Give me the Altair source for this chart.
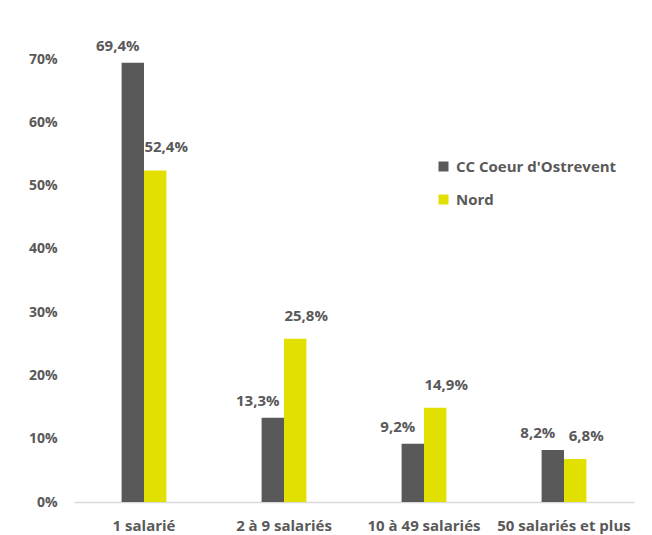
import altair as alt
import pandas as pd

categories = ["1 salarié", "2 à 9 salariés", "10 à 49 salariés", "50 salariés et plus"]
series = ["CC Coeur d'Ostrevent", "Nord"]
cc_values = [69.4, 13.3, 9.2, 8.2]
nord_values = [52.4, 25.8, 14.9, 6.8]
colors = ["#595959", "#e1e000"]
y_ticks = [0, 0.1, 0.2, 0.3, 0.4, 0.5, 0.6, 0.7]

FONT = "Open Sans"
TXT = "#595959"


def fr(v):
    return f"{v:.1f}".replace(".", ",") + "%"


rows = []
for c, a, b in zip(categories, cc_values, nord_values):
    rows.append({"cat": c, "serie": series[0], "v": a / 100, "label": fr(a)})
    rows.append({"cat": c, "serie": series[1], "v": b / 100, "label": fr(b)})
df = pd.DataFrame(rows)

x = alt.X(
    "cat:N",
    sort=categories,
    scale=alt.Scale(paddingInner=0.68, paddingOuter=0.34),
    axis=alt.Axis(
        title=None, labelAngle=0, ticks=False, domainColor="#d9d9d9",
        domainWidth=1.5, labelFont=FONT, labelFontSize=15,
        labelFontWeight="bold", labelColor=TXT, labelPadding=16,
    ),
)
y = alt.Y(
    "v:Q",
    scale=alt.Scale(domain=[0, 0.7], nice=False),
    axis=alt.Axis(
        title=None, format=".0%", values=y_ticks, grid=False, domain=False,
        ticks=False, labelPadding=17, labelFont=FONT, labelFontSize=14,
        labelFontWeight="bold", labelColor=TXT,
    ),
)
xo = alt.XOffset("serie:N", sort=series, scale=alt.Scale(domain=series, paddingInner=0))
color = alt.Color(
    "serie:N",
    scale=alt.Scale(domain=series, range=colors),
    legend=alt.Legend(
        title=None, orient="none", legendX=362, legendY=100,
        symbolType="square", symbolSize=100, symbolStrokeWidth=0,
        labelFont=FONT, labelFontSize=15, labelFontWeight="bold",
        labelColor=TXT, rowPadding=17, labelOffset=5, labelLimit=400,
    ),
)

bars = alt.Chart(df).mark_bar().encode(x=x, y=y, xOffset=xo, color=color)

text_cc = (
    alt.Chart(df)
    .transform_filter(alt.datum.serie == series[0])
    .mark_text(dx=-15, dy=-17, baseline="middle", font=FONT, fontSize=15,
               fontWeight="bold", color=TXT)
    .encode(x=x, y=y, xOffset=xo, text="label:N")
)
text_nord = (
    alt.Chart(df)
    .transform_filter(alt.datum.serie == series[1])
    .mark_text(dx=11, dy=-23, baseline="middle", font=FONT, fontSize=15,
               fontWeight="bold", color=TXT)
    .encode(x=x, y=y, xOffset=xo, text="label:N")
)

chart = (
    alt.layer(bars, text_cc, text_nord)
    .properties(
        width=560, height=443,
        autosize=alt.AutoSizeParams(type="none"),
        padding={"left": 66, "top": 51, "right": 10, "bottom": 40},
        view=alt.ViewBackground(strokeWidth=0, strokeOpacity=0),
    )
    .configure(font=FONT, view=alt.ViewConfig(strokeWidth=0, strokeOpacity=0))
)

chart.save("out.html", embed_options={"renderer": "svg", "actions": False})
